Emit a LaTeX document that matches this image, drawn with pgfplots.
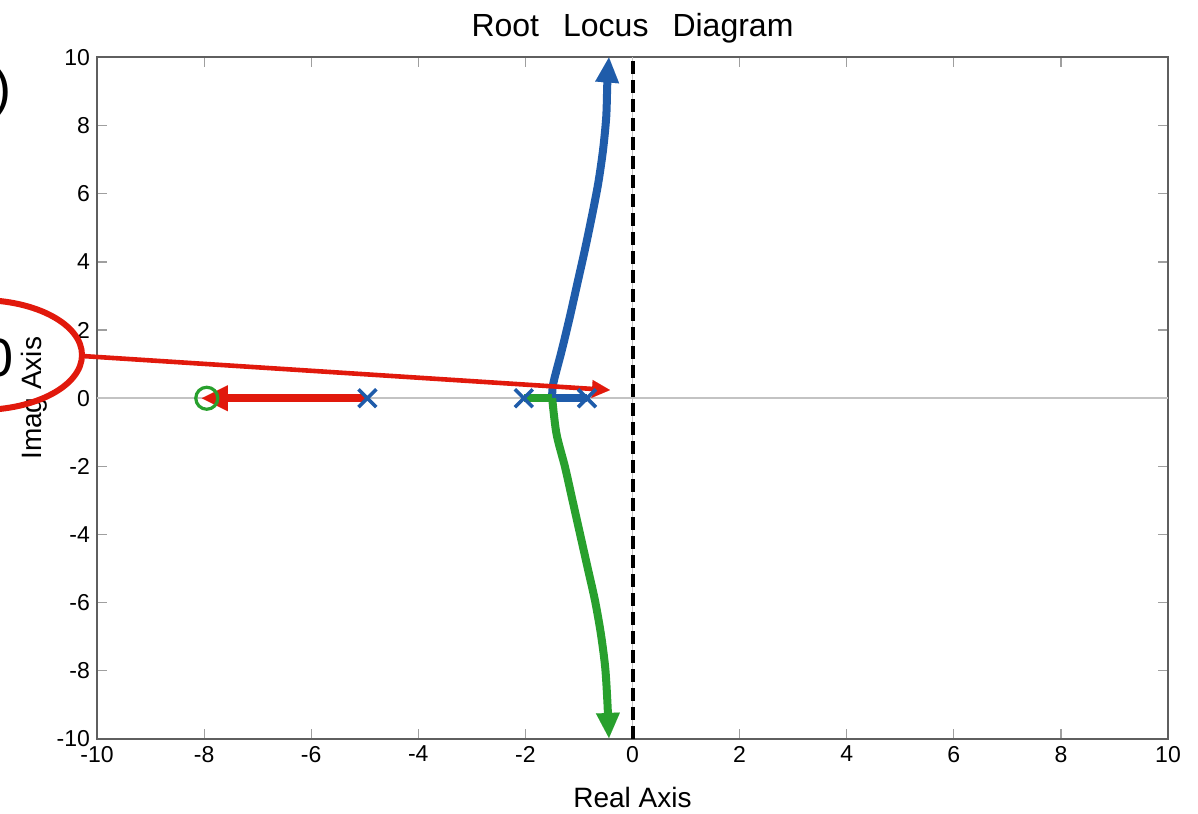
\documentclass[border=0pt]{standalone}
\usepackage{pgfplots}
\pgfplotsset{compat=1.18}
\usepackage{fontspec}
\setmainfont{Liberation Sans}
\usetikzlibrary{arrows.meta}
\definecolor{mblue}{RGB}{31,92,170}
\definecolor{mgreen}{RGB}{40,160,45}
\definecolor{mred}{RGB}{225,25,12}
\definecolor{axgray}{RGB}{95,95,95}
\definecolor{zgray}{RGB}{195,195,195}
\begin{document}
\begin{tikzpicture}
\useasboundingbox (-48.5pt,-37pt) rectangle (550.5pt,369.5pt);
\clip (-48.5pt,-37pt) rectangle (550.5pt,369.5pt);
\begin{axis}[
  at={(0pt,0pt)}, anchor=south west,
  scale only axis, width=535.5pt, height=340.75pt,
  xmin=-10, xmax=10, ymin=-10, ymax=10,
  clip=false,
  xtick={-10,-8,...,10}, ytick={-10,-8,...,10},
  xticklabels={-10,-8,-6,-4,-2,0,2,4,6,8,10},
  yticklabels={-10,-8,-6,-4,-2,0,2,4,6,8,10},
  tick align=inside, major tick length=5pt,
  tick style={color=axgray!60, line width=0.6pt},
  axis line style={color=axgray, line width=1pt},
  ticklabel style={font=\fontsize{11.5}{13}\selectfont},
  title={Root\hspace{12pt}Locus\hspace{12pt}Diagram},
  every axis title/.style={at={(axis description cs:0.5,1.0301)}, anchor=base, font=\fontsize{16}{19}\selectfont},
  xlabel={Real Axis}, ylabel={Imag Axis},
  xlabel style={at={(axis description cs:0.5,-0.0998)}, anchor=base, font=\fontsize{14}{17}\selectfont},
  ylabel style={at={(axis description cs:-0.0514,0.5)}, anchor=base, font=\fontsize{14}{17}\selectfont},
]
% zero lines
\addplot[zgray, line width=1pt] coordinates {(-10,0) (10,0)};
\addplot[zgray, line width=0.6pt] coordinates {(0,-10) (0,10)};
\addplot[black, line width=2pt, dash pattern=on 6.5pt off 3pt] coordinates {(0,-10) (0,10)};
% zero of the open-loop transfer function
\addplot[mgreen, only marks, mark=o, mark size=5.5pt, mark options={line width=1.6pt}] coordinates {(-7.95,0)};
% red branch
\addplot[mred, line width=4pt, -{Triangle[length=13pt,width=13pt,line width=0.01pt]}] coordinates {(-5,0) (-8.04,0)};
% blue branch
\addplot[mblue, line width=4pt] coordinates {(-0.85,0) (-1.5,0)};
\addplot[mblue, line width=4pt, smooth, -{Triangle[length=12.5pt,width=12pt,line width=0.01pt]}] coordinates {
  (-1.5,0) (-1.48,0.43) (-1.32,1.41) (-1.17,2.39) (-1.03,3.37) (-0.89,4.35)
  (-0.76,5.33) (-0.64,6.31) (-0.55,7.29) (-0.49,8.27) (-0.47,9.26) (-0.44,10)};
% green branch
\addplot[mgreen, line width=4pt] coordinates {(-2.03,0) (-1.5,0)};
\addplot[mgreen, line width=4pt, smooth, -{Triangle[length=12.5pt,width=12pt,line width=0.01pt]}] coordinates {
  (-1.5,0) (-1.42,-1.04) (-1.26,-2.02) (-1.12,-3.0) (-0.98,-3.98) (-0.84,-4.96)
  (-0.70,-5.94) (-0.59,-6.92) (-0.51,-7.9) (-0.47,-8.88) (-0.44,-9.97)};
% poles
\addplot[mblue, only marks, mark=x, mark size=6.3pt, mark options={line width=1.8pt}] coordinates {(-0.85,0) (-2.03,0) (-4.95,0)};
% annotation arrow
\draw[mred, line width=2.3pt, -{Triangle[length=9pt,width=9pt,line width=0.01pt]}] (axis cs:-10.28,1.24) -- (axis cs:-0.42,0.24);
\end{axis}
\draw[mred, line width=3pt] (-58.5pt,192pt) ellipse [x radius=51pt, y radius=27.5pt];
\node[anchor=base east, inner sep=0pt, font=\fontsize{27}{32}\selectfont] at (-41.4pt,181pt) {0};
\node[anchor=base east, inner sep=0pt, font=\fontsize{27}{32}\selectfont] at (-42.5pt,316pt) {)};
\end{tikzpicture}
\end{document}
